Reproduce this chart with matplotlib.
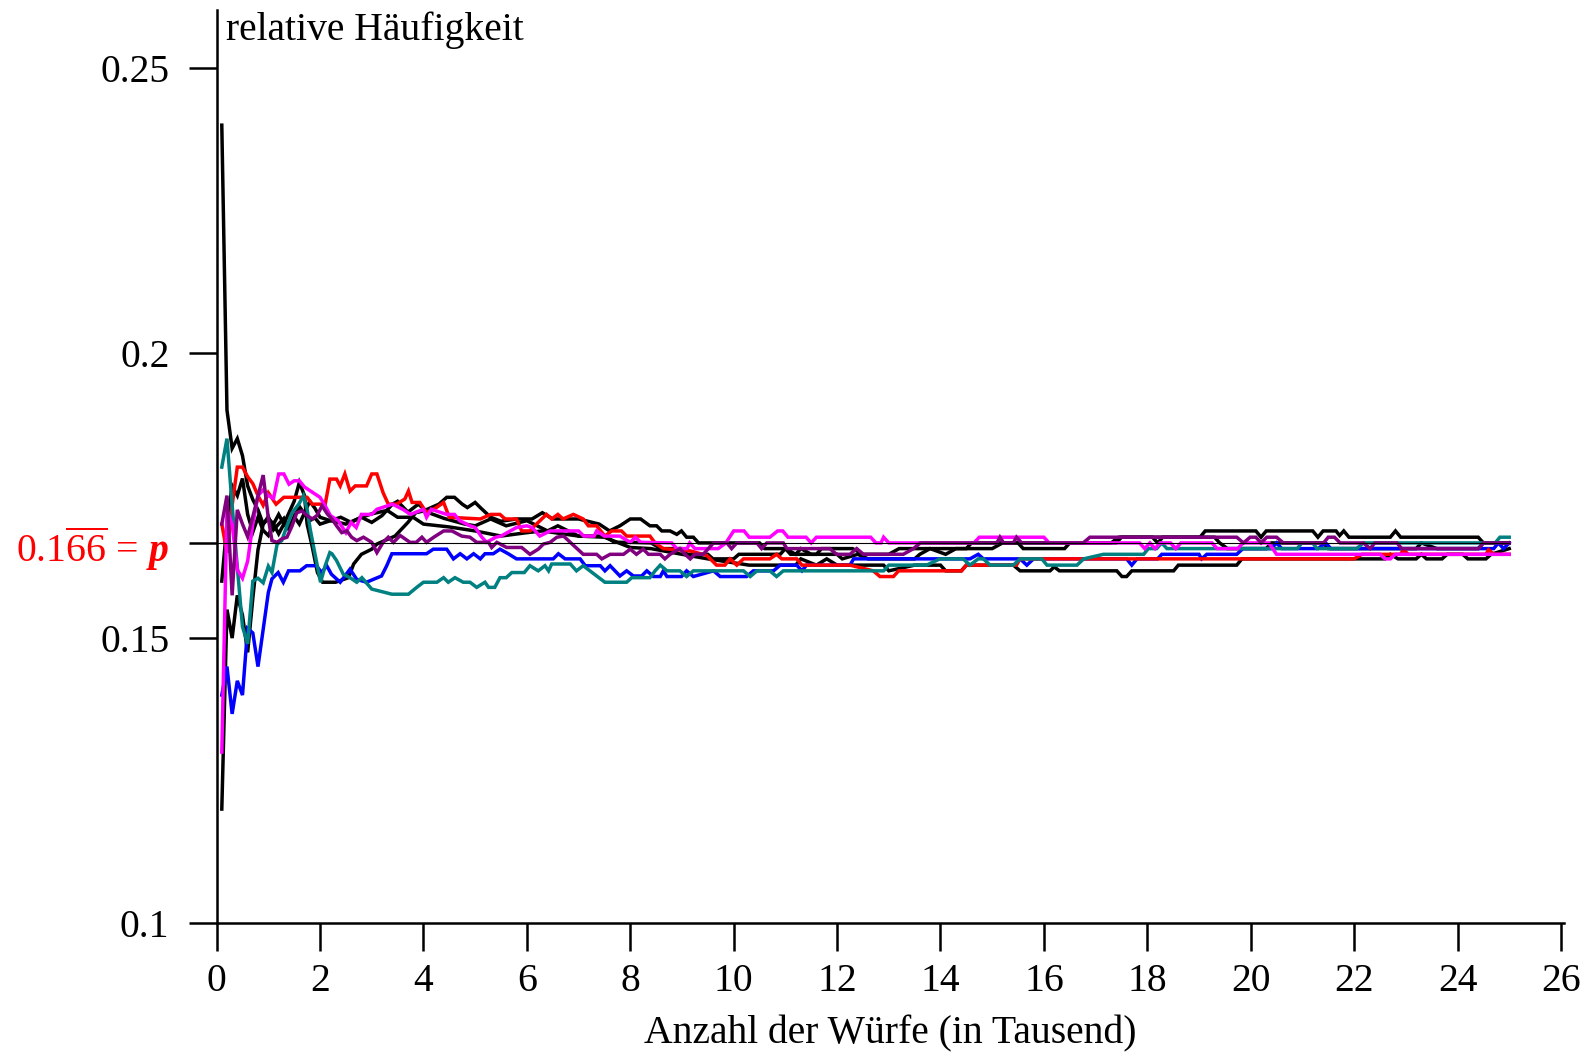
import matplotlib
matplotlib.use("Agg")
import matplotlib.pyplot as plt

plt.rcParams["font.family"] = ["Liberation Serif", "DejaVu Serif"]
plt.rcParams["mathtext.fontset"] = "custom"
plt.rcParams["mathtext.rm"] = "Liberation Serif"
plt.rcParams["mathtext.it"] = "Liberation Serif:italic"
plt.rcParams["mathtext.bf"] = "Liberation Serif:bold"
plt.rcParams["mathtext.bfit"] = "Liberation Serif:bold:italic"

# relative frequency of one face after n thousand throws, eight runs
p = 1 / 6

black_a = [(0.1, .24), (0.2, .19), (0.3, .1833), (0.4, .185), (0.5, .182), (0.6, .1767), (0.7, .1743),
           (0.8, .1725), (0.9, .17), (1.0, .171), (1.1, .17), (1.2, .1717), (1.3, .17), (1.4, .172),
           (1.5, .174), (1.6, .1773), (1.7, .175), (1.75, .17), (1.85, .166), (1.95, .1615), (2.05, .1598),
           (2.3, .1598), (2.55, .1606), (2.65, .163), (2.8, .1647), (3.0, .1656), (3.1, .1665), (3.45, .1679),
           (3.7, .1703), (3.85, .172), (4.0, .1723), (4.3, .1735), (4.45, .1747), (4.6, .1747), (4.75, .1735),
           (4.85, .1729), (5.0, .1738), (5.1, .1729), (5.3, .1712), (5.5, .1705), (5.8, .1709), (6.1, .1709),
           (6.3, .172), (6.5, .1709), (7.0, .1709), (7.4, .17), (7.6, .1688), (7.8, .1697), (8.0, .1709),
           (8.2, .1709), (8.38, .1697), (8.51, .1697), (8.61, .1688), (8.77, .1688), (8.9, .1682),
           (8.99, .1688), (9.09, .1677), (9.22, .1677), (9.32, .1667), (10.5, .1667), (10.6, .1657),
           (11.0, .1657), (11.1, .1647), (11.6, .1647), (11.7, .1657), (12.3, .1657), (12.5, .1647),
           (13.0, .1647), (13.2, .1657), (14.5, .1657), (14.6, .1667), (15.5, .1667), (15.6, .1657),
           (16.4, .1657), (16.5, .1667), (17.4, .1667), (17.5, .1677), (19.02, .1677), (19.12, .1688),
           (20.1, .1688), (20.2, .1677), (20.3, .1688), (21.2, .1688), (21.3, .1677), (21.4, .1688),
           (21.65, .1688), (21.72, .168), (21.8, .1688), (21.9, .1677), (22.7, .1677), (22.8, .1688),
           (22.9, .1677), (24.4, .1677), (24.5, .1667), (25.0, .1667)]

black_b = [(0.1, .16), (0.2, .17), (0.3, .1767), (0.4, .175), (0.5, .178), (0.6, .1717), (0.7, .1686),
           (0.8, .1712), (0.9, .1689), (1.0, .168), (1.1, .17), (1.2, .1683), (1.3, .17), (1.4, .1693),
           (1.5, .1713), (1.6, .1731), (1.7, .1718), (1.8, .1706), (1.9, .1711), (2.0, .17), (2.2, .1706),
           (2.4, .1712), (2.6, .1703), (2.8, .1712), (3.0, .1703), (3.2, .1715), (3.4, .1735), (3.5, .174),
           (3.7, .1721), (3.9, .1735), (4.1, .172), (4.4, .171), (4.8, .17), (5.0, .1697), (5.3, .1709),
           (5.6, .1697), (6.0, .1706), (6.2, .1697), (6.4, .1688), (6.6, .1697), (6.8, .1688), (7.0, .1679),
           (7.5, .1679), (7.7, .1668), (8.0, .1668), (8.4, .1667), (8.6, .1657), (9.0, .1657), (9.1, .1647),
           (9.5, .1647), (9.6, .1639), (10.0, .1639), (10.1, .1647), (10.9, .1647), (11.0, .1657),
           (11.2, .1647), (11.3, .1657), (11.5, .1647), (12.0, .1647), (12.1, .1639), (12.4, .1647),
           (12.6, .1639), (13.5, .1639), (13.6, .1647), (13.8, .1657), (14.1, .1647), (14.3, .1657),
           (15.0, .1657), (15.2, .1667), (17.3, .1667), (17.45, .1677), (18.1, .1677), (18.2, .1667),
           (18.3, .1677), (19.3, .1677), (19.4, .1667), (19.55, .1657), (20.3, .1657), (20.4, .1667),
           (21.4, .1667), (21.5, .1657), (23.2, .1657), (23.3, .1667), (23.6, .1657), (24.4, .1657),
           (24.5, .1667), (25.0, .1667)]

black_c = [(0.1, .12), (0.2, .155), (0.3, .15), (0.4, .1575), (0.5, .154), (0.6, .1475), (0.7, .157),
           (0.8, .1655), (0.9, .17), (1.0, .1713), (1.1, .169), (1.2, .17), (1.3, .171), (1.4, .169),
           (1.5, .1713), (1.6, .17), (1.7, .172), (1.8, .174), (1.9, .1728), (2.0, .1712), (2.2, .1706),
           (2.5, .17), (2.8, .1712), (3.0, .1718), (3.3, .1724), (3.5, .1712), (3.8, .1712), (4.0, .17),
           (4.5, .1695), (5.0, .1688), (5.5, .1679), (6.0, .1685), (6.3, .1688), (7.0, .1679), (7.5, .1677),
           (8.0, .1659), (8.4, .1657), (9.0, .1647), (9.5, .1639), (10.3, .1628), (11.2, .1628),
           (11.3, .1639), (11.6, .1628), (11.8, .1639), (12.0, .1628), (12.9, .1628), (13.0, .1618),
           (13.5, .1628), (14.0, .1628), (14.1, .1618), (14.4, .1618), (14.5, .1628), (15.41, .1628),
           (15.54, .1618), (16.12, .1618), (16.2, .1625), (16.3, .1618), (17.41, .1618), (17.51, .1608),
           (17.6, .1608), (17.7, .1618), (18.51, .1618), (18.6, .1628), (19.73, .1628), (19.83, .1639),
           (22.6, .1639), (22.7, .1647), (22.85, .1639), (23.2, .1639), (23.3, .1647), (23.4, .1639),
           (23.7, .1639), (23.8, .1647), (24.1, .1647), (24.2, .1639), (24.55, .1639), (24.65, .1647),
           (25.0, .1657)]

blue = [(0.1, .14), (0.2, .145), (0.3, .1367), (0.4, .1425), (0.5, .14), (0.6, .1517), (0.7, .1509),
        (0.8, .145), (0.9, .1515), (1.0, .158), (1.07, .1604), (1.19, .1615), (1.29, .1598), (1.39, .1618),
        (1.61, .1618), (1.74, .1627), (1.93, .1627), (2.03, .1615), (2.13, .1627), (2.22, .1612),
        (2.39, .1598), (2.58, .1621), (2.71, .1603), (2.9, .1598), (3.03, .1603), (3.19, .1609),
        (3.29, .1627), (3.39, .1648), (4.06, .1648), (4.19, .1656), (4.45, .1656), (4.58, .1639),
        (4.71, .1648), (4.84, .1639), (4.97, .1648), (5.1, .1639), (5.19, .1648), (5.35, .1648),
        (5.48, .1656), (5.64, .1648), (5.8, .1639), (6.51, .1639), (6.61, .1648), (6.74, .1639),
        (7.03, .1639), (7.13, .1627), (7.42, .1627), (7.51, .1618), (7.61, .1627), (7.8, .1609),
        (7.93, .1618), (8.06, .1609), (8.22, .1609), (8.32, .1618), (8.45, .1608), (8.58, .1608),
        (8.64, .1618), (8.71, .1608), (8.99, .1608), (9.09, .1618), (9.22, .1608), (9.61, .1618),
        (9.74, .1608), (10.25, .1608), (10.38, .1618), (10.77, .1618), (10.9, .1628), (11.22, .1628),
        (11.32, .1618), (11.41, .1628), (12.25, .1628), (12.32, .1639), (14.57, .1639), (14.73, .1647),
        (14.83, .1639), (15.54, .1639), (15.67, .1628), (15.8, .1639), (17.6, .1639), (17.7, .1628),
        (17.8, .1639), (18.2, .1639), (18.28, .1647), (19.0, .1647), (19.05, .1639), (19.15, .1647),
        (19.73, .1647), (19.85, .1657), (20.4, .1657), (20.5, .1667), (20.6, .1657), (21.3, .1657),
        (21.45, .1667), (21.55, .1657), (24.7, .1657), (24.79, .1667), (24.89, .1657), (25.0, .1667)]

red = [(0.1, .17), (0.2, .165), (0.3, .1733), (0.4, .18), (0.5, .18), (0.6, .1783), (0.7, .1771),
       (0.8, .175), (0.9, .1733), (1.0, .1755), (1.15, .1735), (1.3, .1747), (1.75, .1747), (1.85, .1735),
       (2.1, .1735), (2.19, .1779), (2.32, .1779), (2.39, .1767), (2.48, .1788), (2.58, .1758),
       (2.68, .1767), (2.9, .1767), (3.0, .1788), (3.1, .1788), (3.22, .1755), (3.32, .1735),
       (3.48, .1735), (3.64, .1744), (3.71, .1758), (3.78, .1738), (3.93, .1738), (4.06, .172),
       (4.25, .1729), (4.39, .1738), (4.5, .1712), (5.1, .1709), (5.3, .1717), (5.48, .1717),
       (5.58, .1709), (5.8, .1709), (5.9, .1688), (6.06, .1688), (6.15, .1697), (6.38, .1717),
       (6.48, .1709), (6.6, .1717), (6.7, .1709), (6.9, .1717), (7.09, .1709), (7.19, .1697),
       (7.35, .1697), (7.51, .1679), (7.64, .1688), (7.83, .1688), (7.93, .1679), (8.38, .1679),
       (8.48, .1667), (8.64, .1657), (9.16, .1653), (9.48, .1645), (9.67, .1628), (9.83, .1628),
       (9.93, .1639), (10.06, .1628), (10.19, .1639), (10.7, .1639), (10.83, .1647), (10.93, .1639),
       (11.22, .1639), (11.32, .1628), (12.25, .1628), (12.7, .1618), (12.83, .1608), (13.09, .1608),
       (13.19, .1618), (14.41, .1618), (14.5, .1628), (15.47, .1628), (15.54, .1639), (22.0, .1639),
       (22.15, .1647), (22.9, .1647), (22.95, .1655), (23.05, .1647), (24.55, .1647), (24.6, .1655),
       (24.7, .1647), (25.0, .1647)]

teal = [(0.1, .18), (0.2, .185), (0.3, .1733), (0.4, .1625), (0.5, .152), (0.6, .149), (0.7, .16),
        (0.8, .1605), (0.9, .1597), (1.0, .1626), (1.07, .1615), (1.17, .1665), (1.26, .1671),
        (1.36, .1697), (1.46, .172), (1.59, .1735), (1.68, .175), (1.75, .1726), (1.81, .1691),
        (1.91, .1644), (2.01, .1598), (2.1, .1627), (2.19, .165), (2.23, .1648), (2.32, .1636),
        (2.45, .1612), (2.58, .1606), (2.71, .1598), (2.81, .1606), (3.0, .1586), (3.39, .1577),
        (3.71, .1577), (3.87, .1589), (4.0, .1598), (4.26, .1598), (4.39, .1606), (4.48, .1598),
        (4.61, .1606), (4.77, .1598), (4.9, .1598), (5.03, .1589), (5.19, .1598), (5.26, .1589),
        (5.38, .1589), (5.48, .1606), (5.6, .1606), (5.71, .1615), (5.95, .1615), (6.06, .1627),
        (6.22, .1618), (6.35, .1627), (6.42, .1618), (6.48, .163), (6.84, .163), (6.96, .1618),
        (7.09, .1627), (7.22, .1618), (7.35, .1609), (7.51, .1598), (7.93, .1598), (8.03, .1606),
        (8.38, .1606), (8.48, .1618), (8.58, .1628), (8.71, .1618), (8.96, .1618), (9.09, .1608),
        (9.22, .1618), (10.19, .1618), (10.32, .1608), (10.45, .1618), (10.7, .1618), (10.83, .1608),
        (10.96, .1618), (12.9, .1618), (13.0, .1628), (13.73, .1628), (13.99, .1639), (14.44, .1639),
        (14.57, .1628), (14.73, .1639), (14.83, .1639), (14.96, .1628), (15.41, .1628), (15.54, .1639),
        (15.96, .1639), (16.06, .1628), (16.64, .1628), (16.77, .1639), (17.15, .1647), (17.93, .1647),
        (18.02, .1657), (18.18, .1657), (18.28, .1667), (18.38, .1657), (20.9, .1657), (20.99, .1667),
        (21.2, .1667), (21.28, .1657), (22.05, .1657), (22.18, .1667), (24.73, .1667), (24.82, .1677),
        (25.0, .1677)]

magenta = [(0.1, .13), (0.2, .1725), (0.3, .17), (0.4, .162), (0.5, .1605), (0.6, .1635), (0.7, .17),
           (0.8, .175), (0.9, .176), (1.0, .175), (1.1, .1745), (1.2, .1788), (1.3, .1788), (1.4, .177),
           (1.5, .1776), (1.6, .1776), (1.7, .1765), (1.85, .1756), (2.0, .1747), (2.1, .1732),
           (2.2, .1715), (2.35, .1706), (2.5, .1685), (2.6, .1703), (2.7, .1694), (2.8, .1717),
           (3.0, .1717), (3.1, .1726), (3.4, .1735), (3.6, .1726), (3.75, .1717), (4.0, .1726),
           (4.06, .1712), (4.15, .1726), (4.45, .1717), (4.6, .1717), (4.7, .1706), (4.9, .1697),
           (5.0, .1694), (5.13, .1677), (5.22, .1668), (5.4, .1677), (5.5, .1679), (5.8, .1694),
           (6.0, .1697), (6.1, .1694), (6.25, .1679), (6.45, .1688), (7.0, .1688), (7.1, .1679),
           (7.3, .1679), (7.35, .1688), (7.5, .1679), (7.8, .1679), (8.0, .1668), (8.1, .1677),
           (8.2, .1668), (8.8, .1667), (8.9, .1657), (9.1, .1657), (9.15, .1667), (9.25, .1657),
           (9.7, .1657), (9.85, .1667), (10.0, .1688), (10.2, .1688), (10.3, .1677), (10.7, .1677),
           (10.85, .1688), (10.95, .1688), (11.05, .1677), (11.4, .1677), (11.5, .1667), (11.6, .1677),
           (12.65, .1677), (12.75, .1667), (12.85, .1667), (12.9, .1677), (13.0, .1667), (14.65, .1667),
           (14.75, .1677), (16.0, .1677), (16.1, .1667), (17.85, .1667), (17.95, .1657), (18.05, .1667),
           (18.15, .1657), (18.25, .1667), (18.45, .1667), (18.55, .1657), (18.65, .1667), (19.25, .1667),
           (19.35, .1657), (19.75, .1657), (19.85, .1667), (20.35, .1667), (20.5, .1647), (22.5, .1647),
           (22.6, .1639), (22.7, .1639), (22.8, .1647), (25.0, .1647)]

purple = [(0.1, .17), (0.2, .175), (0.3, .1575), (0.4, .1725), (0.5, .17), (0.6, .1678), (0.7, .1713),
          (0.8, .1749), (0.9, .1786), (0.94, .1756), (1.0, .171), (1.07, .1671), (1.17, .1668),
          (1.26, .1674), (1.36, .1677), (1.46, .1697), (1.55, .172), (1.65, .1723), (1.75, .1715),
          (1.85, .1709), (1.94, .1715), (2.04, .1732), (2.14, .1718), (2.23, .1709), (2.32, .1697),
          (2.42, .1685), (2.52, .1688), (2.61, .1677), (2.71, .1671), (2.84, .1677), (3.0, .1668),
          (3.1, .165), (3.22, .1668), (3.32, .1677), (3.42, .1668), (3.55, .168), (3.74, .1668),
          (3.86, .1668), (3.97, .1677), (4.06, .1668), (4.2, .1677), (4.39, .1688), (4.55, .1688),
          (4.74, .1679), (4.9, .1677), (5.03, .1668), (5.26, .1668), (5.32, .1659), (5.42, .1668),
          (5.61, .1659), (5.9, .1659), (6.06, .1647), (6.22, .1656), (6.32, .1665), (6.45, .1668),
          (6.58, .1677), (6.71, .1679), (6.84, .1668), (7.09, .1647), (7.35, .1647), (7.45, .1639),
          (7.61, .1647), (7.87, .1647), (8.0, .1656), (8.12, .1647), (8.25, .1656), (8.35, .1647),
          (8.58, .1647), (8.67, .1639), (8.77, .1647), (8.96, .1657), (9.06, .1647), (9.16, .1639),
          (9.25, .1647), (9.41, .1647), (9.51, .1657), (9.61, .1667), (9.87, .1667), (9.96, .1657),
          (10.06, .1667), (10.45, .1667), (10.54, .1657), (10.64, .1667), (10.96, .1667), (11.03, .1657),
          (11.86, .1657), (11.99, .1647), (12.25, .1647), (12.38, .1657), (12.51, .1647), (13.28, .1647),
          (13.48, .1657), (13.61, .1667), (15.09, .1667), (15.15, .1677), (15.22, .1667), (15.41, .1667),
          (15.47, .1677), (15.57, .1667), (16.76, .1667), (16.89, .1677), (19.73, .1677), (19.86, .1667),
          (19.99, .1677), (20.1, .1677), (20.2, .1667), (20.31, .1677), (20.5, .1677), (20.63, .1667),
          (21.41, .1667), (21.5, .1677), (21.62, .1677), (21.73, .1667), (22.18, .1667), (22.31, .1657),
          (22.4, .1667), (22.83, .1667), (22.92, .1657), (24.41, .1657), (24.5, .1667), (25.0, .1667)]

runs = [
    (black_a, "black"), (black_b, "black"), (black_c, "black"),
    (blue, "#0000ff"), (red, "#ff0000"), (teal, "#008080"),
    (magenta, "#ff00ff"), (purple, "#800080"),
]

ytick_vals = [0.1, 0.15, p, 0.2, 0.25]
ytick_text = ["0.1", "0.15", r"$0.1\overline{66}\,=\,\mathbfit{p}$", "0.2", "0.25"]
xtick_vals = list(range(0, 27, 2))

fig = plt.figure(figsize=(15.87, 10.56), dpi=100)
ax = fig.add_axes([0.1365, 0.1259, 0.8487, 0.8646])

for pts, col in runs:
    xs, ys = zip(*pts)
    ax.plot(xs, ys, color=col, lw=2.5, solid_joinstyle="miter")

ax.plot([0, 25], [p, p], color="black", lw=0.8, zorder=5)

ax.set_xlim(0, 26.05)
ax.set_ylim(0.1, 0.2602)
for side in ("top", "right"):
    ax.spines[side].set_visible(False)
for side in ("left", "bottom"):
    ax.spines[side].set_linewidth(1.8)

ax.set_xticks(xtick_vals)
ax.set_xticklabels([str(v) for v in xtick_vals])
ax.set_yticks(ytick_vals)
ax.set_yticklabels(ytick_text)
ax.get_yticklabels()[2].set_color("red")
ax.tick_params(direction="out", length=20, width=1.8, labelsize=28.5)
ax.tick_params(axis="y", pad=14)
ax.tick_params(axis="x", pad=9)

ax.set_xlabel("Anzahl der Würfe (in Tausend)", fontsize=28.5, labelpad=11)
ax.text(0.19, 0.2599, "relative Häufigkeit", fontsize=28.5, va="top", ha="left")

fig.savefig("out.png", dpi=100)
